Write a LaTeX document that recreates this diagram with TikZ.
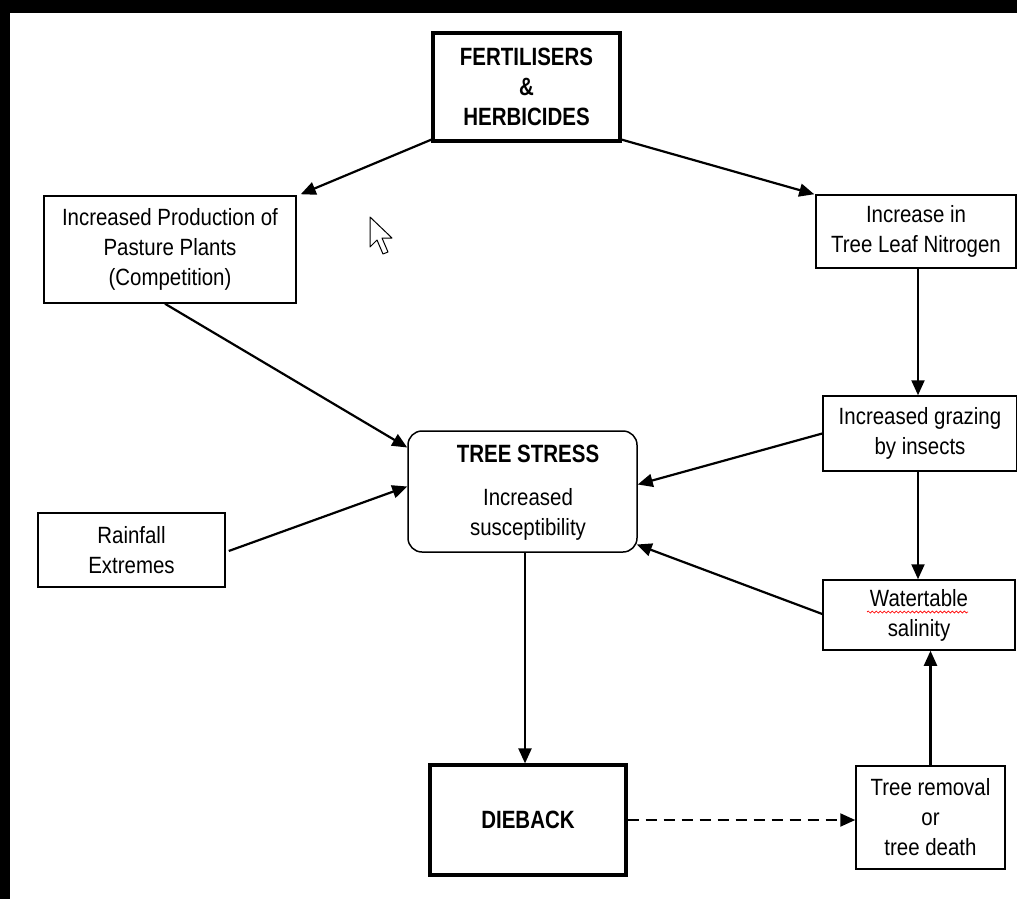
\documentclass[tikz,border=0pt]{standalone}
\usepackage{fontspec}
\setmainfont{Liberation Sans}[FakeStretch=0.87]
\newfontfamily\boldnarrow{Liberation Sans}[FakeStretch=0.82]
\usetikzlibrary{arrows.meta,calc,decorations.pathmorphing}
\begin{document}
\begin{tikzpicture}[x=1pt,y=-1pt,
  box/.style={draw, line width=1.5pt, fill=white, align=center, inner sep=0pt,
    font=\fontsize{23.5}{30}\selectfont},
  thickbox/.style={box, line width=3.2pt, font=\boldnarrow\bfseries\fontsize{25}{30}\selectfont},
  conn/.style={line width=2.2pt, -{Triangle[length=15pt,width=13pt]}},
]
\useasboundingbox (0,0) rectangle (1017,899);
\fill[white] (0,0) rectangle (1017,899);
\fill[black] (0,0) rectangle (1017,13);
\fill[black] (0,0) rectangle (10,899);

\node[thickbox, minimum width=187pt, minimum height=108pt] (fert) at (526.5,87) {FERTILISERS\\\&\\HERBICIDES};
\node[box, minimum width=252pt, minimum height=107pt] (prod) at (170,249.5) {Increased Production of\\Pasture Plants\\(Competition)};
\node[box, minimum width=200pt, minimum height=73pt] (incr) at (916,231.5) {Increase in\\Tree Leaf Nitrogen};
\node[box, rounded corners=14pt, minimum width=229pt, minimum height=121pt] (stress) at (522.5,491.5) {};
\node[font=\boldnarrow\bfseries\fontsize{25}{30}\selectfont] (stresst) at (528,454) {TREE STRESS};
\node[align=center, font=\fontsize{23.5}{30}\selectfont] (stressb) at (528,514) {Increased\\susceptibility};
\node[box, minimum width=194pt, minimum height=75pt] (graz) at (920,433.5) {Increased grazing\\by insects};
\node[box, minimum width=187pt, minimum height=74pt] (rain) at (131.5,550) {Rainfall\\Extremes};
\node[box, minimum width=192pt, minimum height=70pt] (water) at (919,615) {Watertable\\salinity};
\node[thickbox, minimum width=196pt, minimum height=110pt] (die) at (528,820) {DIEBACK};
\node[box, minimum width=149pt, minimum height=103pt] (remv) at (930.5,817.5) {Tree removal\\or\\tree death};

\draw[red, line width=0.7pt, decorate, decoration={snake, amplitude=1pt, segment length=4pt}]
  ($(water.center)+(-52,-3)$) -- ($(water.center)+(49,-3)$);

\draw[conn] ($(fert.south west)+(0,-3)$) -- ($(prod.north east)+(4,-1)$);
\draw[conn] ($(fert.south east)+(0,-3)$) -- ($(incr.north west)+(-1,0)$);
\draw[conn] ($(prod.south)+(-5,0)$) -- ($(stress.west)+(0,-44)$);
\draw[conn] ($(rain.east)+(3,1)$) -- ($(stress.west)+(0,-5)$);
\draw[conn] ($(incr.south)+(2,0)$) -- ($(graz.north)+(-2,0)$);
\draw[conn] (graz.west) -- ($(stress.east)+(0,-7)$);
\draw[conn] ($(graz.south)+(-2,0)$) -- ($(water.north)+(-1,0)$);
\draw[conn] ($(water.west)+(0,-1)$) -- ($(stress.east)+(-1,53)$);
\draw[conn] ($(stress.south)+(2.5,0)$) coordinate (sb) -- (sb |- die.north);
\draw[conn, dashed, dash pattern=on 11pt off 7pt] (die.east) -- (die.east -| remv.west);
\draw[conn] (remv.north) -- ($(remv.north |- water.south)$);

% mouse cursor
\draw[fill=white, line width=1pt, line join=round] (370,217) coordinate (cur)
  -- ++(0,30) -- ++(7,-7) -- ++(6,14) -- ++(5,-2) -- ++(-6,-14) -- ++(10,0) -- cycle;
\end{tikzpicture}
\end{document}
